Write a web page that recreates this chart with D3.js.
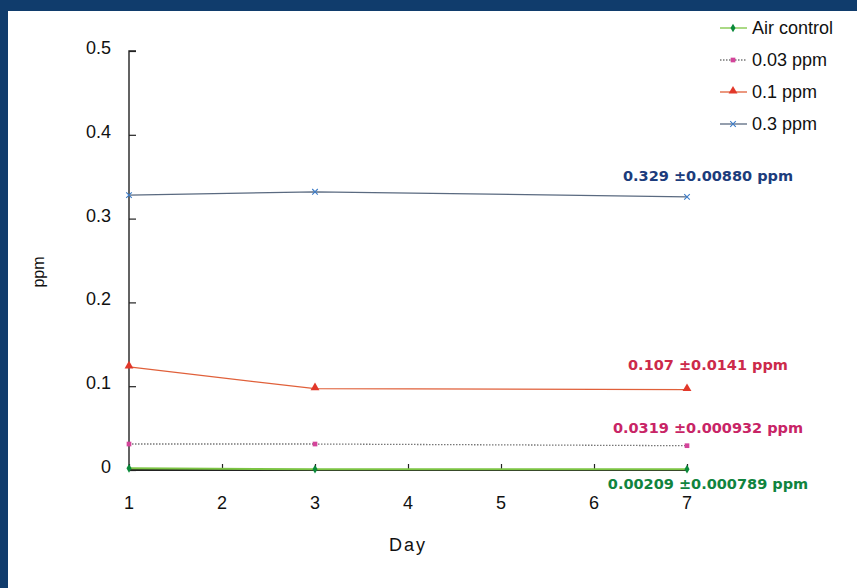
<!DOCTYPE html>
<html>
<head>
<meta charset="utf-8">
<script src="https://d3js.org/d3.v7.min.js"></script>
<style>
body { margin: 0; background: #fff; }
svg { display: block; }
.tick-label { font: 18px "Liberation Sans", Arial, sans-serif; fill: #111; }
.note { font: bold 14.5px "DejaVu Sans", sans-serif; }
</style>
</head>
<body>
<svg width="857" height="588"></svg>
<script>
// data
var days = [1, 3, 7];
var seriesNames = ["Air control", "0.03 ppm", "0.1 ppm", "0.3 ppm"];
var airControl = [0.002, 0.001, 0.001];
var ppm003 = [0.031, 0.031, 0.029];
var ppm01 = [0.123, 0.097, 0.096];
var ppm03 = [0.328, 0.332, 0.326];
var notes = ["0.00209 \u00b10.000789 ppm", "0.0319 \u00b10.000932 ppm", "0.107 \u00b10.0141 ppm", "0.329 \u00b10.00880 ppm"];
var xTicks = [1, 2, 3, 4, 5, 6, 7];
var yTicks = [0, 0.1, 0.2, 0.3, 0.4, 0.5];

var svg = d3.select("svg");

// scanned blue frame
svg.append("rect").attr("width", 857).attr("height", 588).attr("fill", "#103c6c");
svg.append("rect").attr("x", 8).attr("y", 11).attr("width", 849).attr("height", 577).attr("fill", "#fff");

var x = d3.scaleLinear().domain([1, 7]).range([129, 687]);
var y = d3.scaleLinear().domain([0, 0.5]).range([470, 51]);

var series = [
  {name: seriesNames[0], values: airControl, line: "#7cc443", mark: "#0a8a3a", shape: "diamond", dash: null, text: "#10843e", noteDy: 20},
  {name: seriesNames[1], values: ppm003, line: "#777", mark: "#d4449a", shape: "square", dash: "1.5,1.5", text: "#c82466", noteDy: -13},
  {name: seriesNames[2], values: ppm01, line: "#e0603a", mark: "#e2382a", shape: "triangle", dash: null, text: "#cc2a4a", noteDy: -20},
  {name: seriesNames[3], values: ppm03, line: "#5a6a80", mark: "#3c7cc8", shape: "x", dash: null, text: "#1c3c7c", noteDy: -16}
];

// axes
var g = svg.append("g");
var yAxis = d3.axisRight(y).tickValues(yTicks).tickSize(7).tickFormat("");
g.append("g").attr("transform", "translate(" + x(1) + ",0)").call(yAxis)
  .call(function(s) { s.select(".domain").attr("stroke", "#222").attr("stroke-width", 1.4).attr("d", "M7," + y(0.5) + "H0V" + y(0)); s.selectAll(".tick line").attr("stroke", "#222").attr("stroke-width", 1.2); });
var xAxis = d3.axisTop(x).tickValues(xTicks).tickSize(6).tickFormat("");
g.append("g").attr("transform", "translate(0," + y(0) + ")").call(xAxis)
  .call(function(s) { s.select(".domain").attr("stroke", "#222").attr("stroke-width", 1.8).attr("d", "M" + x(1) + ",0H" + x(7)); s.selectAll(".tick line").attr("stroke", "#222").attr("stroke-width", 1.2); });

// tick labels
g.selectAll(".ylab").data(yTicks).enter().append("text")
  .attr("class", "tick-label")
  .attr("x", 111).attr("y", function(d) { return y(d) + 3; })
  .attr("text-anchor", "end")
  .text(function(d) { return d === 0 ? "0" : d3.format(".1f")(d); });
g.selectAll(".xlab").data(xTicks).enter().append("text")
  .attr("class", "tick-label")
  .attr("x", function(d) { return x(d); }).attr("y", y(0) + 39)
  .attr("text-anchor", "middle")
  .text(function(d) { return d; });

svg.append("text").attr("class", "tick-label").style("font-size", "16px")
  .attr("transform", "translate(44,272) rotate(-90)")
  .attr("text-anchor", "middle").text("ppm");
svg.append("text").attr("class", "tick-label").style("letter-spacing", "2px")
  .attr("x", 408).attr("y", 551).attr("text-anchor", "middle").text("Day");

function marker(sel, s) {
  if (s.shape === "diamond") {
    sel.append("path").attr("d", d3.symbol(d3.symbolDiamond, 22)).attr("fill", s.mark);
  } else if (s.shape === "square") {
    sel.append("path").attr("d", d3.symbol(d3.symbolSquare, 22)).attr("fill", s.mark);
  } else if (s.shape === "triangle") {
    sel.append("path").attr("d", d3.symbol(d3.symbolTriangle, 34)).attr("fill", s.mark).attr("transform", "translate(0,-1)");
  } else {
    sel.append("path").attr("d", d3.symbol(d3.symbolX, 22)).attr("fill", "none").attr("stroke", s.mark).attr("stroke-width", 1.1);
  }
}

var line = d3.line().x(function(d, i) { return x(days[i]); }).y(function(d) { return y(d); });

series.slice().reverse().forEach(function(s) {
  var sg = svg.append("g");
  sg.append("path").attr("d", line(s.values)).attr("fill", "none")
    .attr("stroke", s.line).attr("stroke-width", s.shape === "diamond" ? 2 : 1.3)
    .attr("stroke-dasharray", s.dash);
  s.values.forEach(function(v, i) {
    var m = sg.append("g").attr("transform", "translate(" + x(days[i]) + "," + y(v) + ")");
    marker(m, s);
  });
});

// value notes at the right end
series.forEach(function(s, i) {
  svg.append("text").attr("class", "note")
    .attr("x", 708).attr("y", y(s.values[s.values.length - 1]) + s.noteDy)
    .attr("text-anchor", "middle").attr("fill", s.text)
    .text(notes[i]);
});

// legend
var leg = svg.append("g").attr("transform", "translate(720,28)");
series.forEach(function(s, i) {
  var r = leg.append("g").attr("transform", "translate(0," + i * 32 + ")");
  r.append("line").attr("x1", 0).attr("x2", 27).attr("stroke", s.line).attr("stroke-width", 1.3).attr("stroke-dasharray", s.dash);
  var m = r.append("g").attr("transform", "translate(13,0)");
  marker(m, s);
  r.append("text").attr("class", "tick-label").attr("x", 32).attr("y", 6).text(s.name);
});
</script>
</body>
</html>
